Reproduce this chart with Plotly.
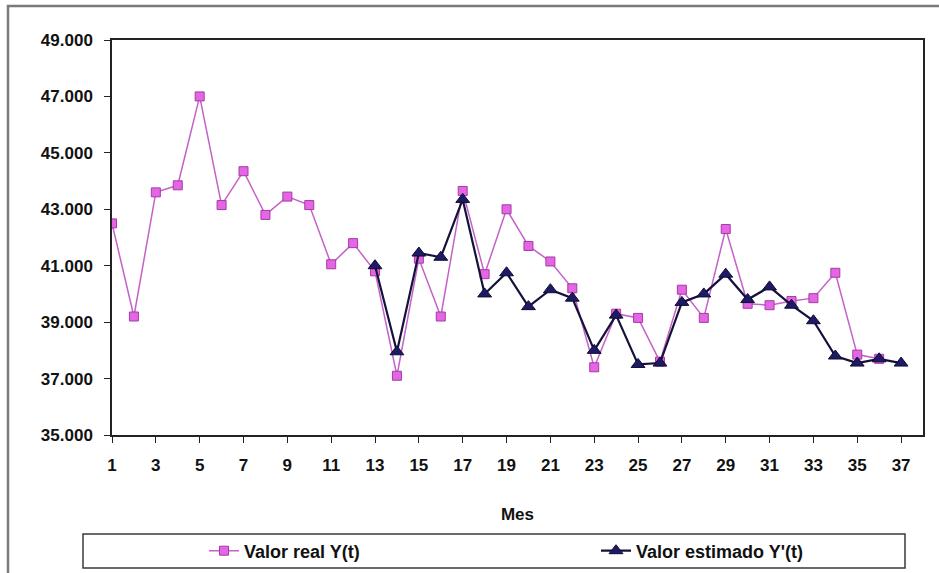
import plotly.graph_objects as go

# Monthly series (units), months 1..36 real, 13..37 estimated
months_real = list(range(1, 37))
valor_real = [42500, 39200, 43600, 43850, 47000, 43150, 44350, 42800, 43450, 43150,
              41050, 41800, 40800, 37100, 41250, 39200, 43650, 40700, 43000, 41700,
              41150, 40200, 37400, 39300, 39150, 37600, 40150, 39150, 42300, 39650,
              39600, 39750, 39850, 40750, 37850, 37700]

months_est = list(range(13, 38))
valor_estimado = [41000, 37950, 41450, 41300, 43350, 40000, 40750, 39550, 40150, 39850,
                  38000, 39250, 37500, 37550, 39700, 40000, 40700, 39800, 40250, 39600,
                  39050, 37800, 37550, 37700, 37550]

x_ticks = list(range(1, 38, 2))
y_ticks = list(range(35000, 49001, 2000))

W, H = 939, 573
L, R, T, B = 112, 16, 40, 138
pw, ph = W - L - R, H - T - B


def px(xp):
    return (xp - L) / pw


def py(yp):
    return (H - B - yp) / ph


FONT = "Arial, 'Liberation Sans', sans-serif"
BOLD17 = dict(family=FONT, size=17, color="#111111", weight="bold")
BOLD18 = dict(family=FONT, size=18, color="#111111", weight="bold")

fig = go.Figure()
fig.add_trace(go.Scatter(
    x=months_real, y=valor_real, mode="lines+markers", name="Valor real Y(t)",
    line=dict(color="#C462C8", width=1.5),
    marker=dict(symbol="square", size=9, color="#E466E4",
                line=dict(color="#A63AA6", width=1)),
    legend="legend",
))
fig.add_trace(go.Scatter(
    x=months_est, y=valor_estimado, mode="lines+markers", name="Valor estimado Y'(t)",
    line=dict(color="#14123A", width=2.2),
    marker=dict(symbol="triangle-up", size=12, color="#1E1A66",
                line=dict(color="#0E0C30", width=1)),
    legend="legend2",
))

legend_common = dict(
    orientation="h", yanchor="middle", xanchor="left",
    font=BOLD18, bgcolor="rgba(0,0,0,0)", borderwidth=0,
)

fig.update_layout(
    width=W, height=H,
    margin=dict(l=L, r=R, t=T, b=B, autoexpand=False),
    paper_bgcolor="white", plot_bgcolor="white",
    separators=",.",
    font=dict(family=FONT, color="#111111"),
    showlegend=True,
    legend=dict(x=px(204), y=py(551), **legend_common),
    legend2=dict(x=px(596), y=py(551), **legend_common),
    shapes=[
        # outer chart frame
        dict(type="rect", xref="paper", yref="paper",
             x0=px(8), x1=px(960), y0=py(600), y1=py(6),
             line=dict(color="#7A7A7A", width=2.5), layer="below"),
        # legend frame
        dict(type="rect", xref="paper", yref="paper",
             x0=px(83), x1=px(905), y0=py(568), y1=py(534),
             line=dict(color="#3A3A3A", width=1.5)),
    ],
)

fig.update_xaxes(
    range=[1, 38], tickvals=x_ticks, ticktext=[str(v) for v in x_ticks],
    ticks="outside", ticklen=6, tickcolor="#222222", tickwidth=1.2,
    showgrid=False, zeroline=False,
    showline=True, linecolor="#222222", linewidth=1.5, mirror=True,
    tickfont=BOLD17, ticklabelstandoff=8,
    title=dict(text="Mes", font=BOLD17, standoff=34),
)
fig.update_yaxes(
    range=[35000, 49000], tickvals=y_ticks, tickformat=",d",
    ticks="outside", ticklen=6, tickcolor="#222222", tickwidth=1.2,
    showgrid=False, zeroline=False,
    showline=True, linecolor="#222222", linewidth=1.5, mirror=True,
    tickfont=BOLD17, ticklabelstandoff=8,
)

fig.write_html("out.html")
